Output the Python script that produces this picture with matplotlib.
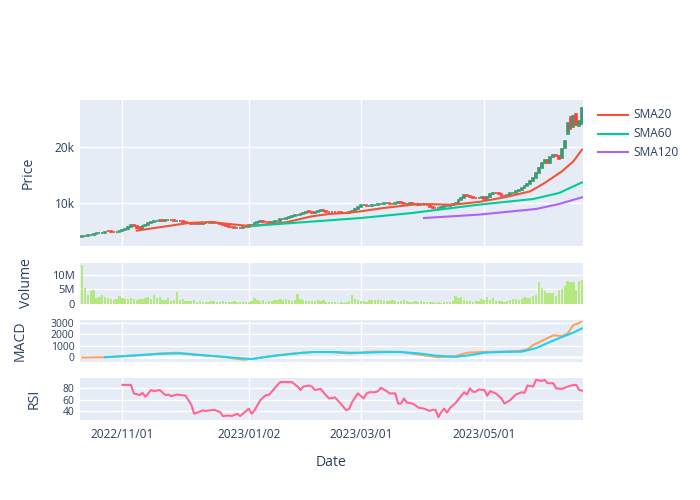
import matplotlib
matplotlib.use("Agg")
import matplotlib.pyplot as plt
from matplotlib.lines import Line2D
import numpy as np

plt.rcParams['font.family'] = ['Open Sans', 'DejaVu Sans']

# ---- data -----------------------------------------------------------------
tick_idx = [14, 58, 97, 140]
tick_labels = ['2022/11/01', '2023/01/02', '2023/03/01', '2023/05/01']

opens = [4050, 4150, 4250, 4400, 4450, 4600, 4700, 4800, 4850, 5150,
         5100, 5000, 4950, 5000, 5050, 5300, 5550, 5850, 6150, 6000,
         5750, 5550, 5950, 6250, 6500, 6650, 6800, 6900, 7050, 6950,
         7050, 7100, 7000, 6900, 6950, 6800, 6700, 6600, 6550, 6400,
         6350, 6450, 6400, 6500, 6550, 6600, 6650, 6550, 6450, 6300,
         6150, 6000, 5850, 5750, 5650, 5700, 5650, 5750, 5900, 6100,
         6250, 6500, 6700, 6850, 6700, 6650, 6600, 6650, 6800, 6950,
         7150, 7300, 7450, 7650, 7750, 7900, 7950, 8100, 8300, 8600,
         8450, 8300, 8450, 8650, 8750, 8600, 8550, 8500, 8550, 8450,
         8400, 8350, 8300, 8350, 8450, 8700, 8950, 9350, 9650, 9750,
         9600, 9600, 9650, 9700, 9850, 9950, 10050, 10100, 9900, 9800,
         10050, 10250, 10100, 9900, 9950, 10050, 9900, 9800, 9750, 9700,
         9750, 9700, 9350, 9200, 9150, 9250, 9300, 9450, 9550, 9650,
         9800, 10100, 10500, 10900, 11400, 11300, 11200, 11000, 10900, 11000,
         11150, 10700, 11200, 11650, 11900, 11800, 11600, 11350, 11300, 11500,
         11750, 11900, 12200, 12400, 12700, 13000, 13400, 13900, 14500, 15300,
         16300, 17200, 17700, 17200, 18100, 18600, 18300, 18000, 19700, 22200,
         25200, 23500, 25700, 23600, 24000]

closes = [4150, 4250, 4400, 4450, 4600, 4700, 4800, 4850, 5000, 5050,
          4950, 4950, 5000, 5050, 5300, 5550, 5850, 6100, 6000, 5700,
          5500, 5950, 6250, 6500, 6650, 6800, 6900, 7000, 6950, 7050,
          7100, 7000, 6900, 6950, 6800, 6700, 6600, 6550, 6400, 6350,
          6450, 6400, 6500, 6550, 6600, 6650, 6550, 6450, 6300, 6150,
          6000, 5850, 5750, 5650, 5700, 5650, 5750, 5900, 6100, 6250,
          6500, 6700, 6800, 6700, 6650, 6600, 6650, 6800, 6950, 7150,
          7300, 7450, 7650, 7750, 7900, 7950, 8100, 8300, 8550, 8450,
          8300, 8450, 8650, 8750, 8600, 8550, 8500, 8550, 8450, 8400,
          8350, 8300, 8350, 8450, 8700, 8950, 9350, 9650, 9700, 9600,
          9600, 9650, 9700, 9850, 9950, 10050, 10100, 9900, 9800, 10050,
          10250, 10100, 9900, 9950, 10050, 9900, 9800, 9750, 9700, 9750,
          9700, 9350, 9200, 9150, 9250, 9300, 9450, 9550, 9650, 9800,
          10100, 10500, 10900, 11400, 11300, 11200, 11000, 10900, 11000, 11150,
          10700, 11200, 11650, 11900, 11800, 11600, 11350, 11300, 11500, 11750,
          11900, 12200, 12400, 12700, 13000, 13400, 13900, 14500, 15300, 16200,
          17200, 17600, 17200, 18100, 18500, 18400, 17900, 19600, 21000, 24200,
          23100, 25400, 23800, 24500, 26900]

volume_m = [13.4, 5.3, 2.8, 4.3, 4.6, 1.9, 2.2, 2.9, 2.3, 1.9,
            1.5, 1.3, 1.4, 2.6, 2.0, 1.5, 1.7, 1.8, 1.7, 1.1,
            1.6, 1.4, 1.9, 2.2, 1.7, 3.1, 2.0, 2.2, 1.1, 1.2,
            1.8, 1.0, 1.2, 3.9, 1.3, 1.4, 0.8, 0.7, 0.8, 1.1,
            0.6, 0.7, 0.5, 0.4, 0.6, 0.8, 0.7, 0.6, 0.5, 0.7,
            0.6, 0.4, 0.5, 0.7, 0.4, 0.5, 0.6, 0.5, 0.6, 0.7,
            1.8, 1.2, 0.7, 1.1, 0.6, 0.9, 1.0, 1.3, 1.2, 1.4,
            1.2, 1.6, 1.3, 1.0, 1.2, 3.3, 1.4, 1.1, 0.9, 0.8,
            1.0, 0.7, 1.3, 1.0, 1.1, 0.5, 0.6, 0.5, 0.4, 0.3,
            0.4, 0.3, 0.6, 0.9, 3.1, 1.6, 1.3, 1.0, 0.8, 0.6,
            1.2, 1.3, 1.2, 1.1, 1.3, 0.9, 1.0, 0.7, 1.1, 0.8,
            0.6, 0.9, 1.1, 0.8, 0.5, 0.6, 0.7, 0.5, 1.0, 0.6,
            0.5, 0.4, 0.5, 0.3, 0.4, 0.3, 0.5, 0.4, 0.6, 1.0,
            2.7, 1.9, 2.1, 1.3, 1.0, 0.9, 0.6, 1.0, 0.7, 1.6,
            1.1, 2.1, 1.2, 1.9, 0.8, 0.7, 0.9, 0.6, 0.8, 1.2,
            1.6, 1.7, 1.1, 1.5, 2.3, 2.0, 1.8, 2.6, 3.1, 7.4,
            5.5, 4.4, 3.8, 3.7, 3.5, 2.7, 4.7, 5.0, 6.0, 7.8,
            7.6, 7.4, 4.8, 7.9, 8.0]

sma20_idx = [19, 37, 45, 51, 57, 61, 71, 80, 86, 92, 97, 105, 115, 119, 129, 138, 147, 156, 161, 167, 171, 174]
sma20_val = [5180, 6530, 6710, 6350, 6060, 6120, 6650, 7710, 8120, 8300, 8590, 9180, 9760, 9880, 9760, 10240,
             11060, 12120, 13590, 15640, 17410, 19470]
sma60_idx = [59, 97, 115, 138, 157, 166, 174]
sma60_val = [6000, 7410, 8300, 9760, 10760, 11820, 13700]
sma120_idx = [119, 138, 158, 166, 174]
sma120_val = [7410, 8000, 9000, 9880, 11060]

macd_idx = [0, 8, 14, 21, 27, 33, 37, 43, 50, 56, 60, 67, 73, 80, 86, 93, 97, 101, 106, 111, 117, 124,
            130, 134, 139, 145, 152, 155, 157, 161, 164, 167, 169, 171, 173, 174]
macd_val = [-30, 0, 90, 180, 330, 400, 310, 150, 0, -210, -120, 150, 310, 460, 460, 340, 400, 490, 490, 460,
            245, 0, 90, 400, 460, 490, 550, 700, 1070, 1560, 1930, 1870, 2080, 2840, 3000, 3200]
signal_idx = [8, 14, 21, 27, 34, 40, 47, 54, 59, 64, 71, 77, 81, 88, 93, 98, 106, 111, 117, 123, 130, 135,
              140, 145, 153, 158, 164, 171, 174]
signal_val = [0, 90, 210, 300, 340, 210, 90, -60, -150, 30, 240, 400, 460, 460, 400, 400, 460, 460, 340, 150,
              30, 180, 400, 460, 490, 800, 1470, 2170, 2540]

rsi_idx = [14, 17, 18, 20, 21, 22, 24, 25, 27, 29, 30, 31, 33, 36, 38, 39, 40, 42, 43, 46, 48, 49, 51, 52,
           54, 55, 58, 59, 60, 62, 63, 64, 65, 67, 68, 69, 73, 75, 76, 77, 79, 80, 81, 83, 85, 86, 88, 90,
           92, 93, 94, 96, 98, 99, 100, 102, 103, 104, 106, 107, 109, 110, 111, 112, 113, 115, 116, 117,
           119, 121, 122, 123, 124, 125, 126, 127, 128, 130, 132, 133, 134, 135, 136, 137, 138, 140, 141,
           142, 144, 146, 147, 149, 151, 153, 154, 155, 157, 158, 160, 161, 162, 164, 165, 167, 169, 171,
           172, 173, 174]
rsi_val = [86, 86, 71, 68, 72, 65, 77, 75, 77, 68, 69, 66, 69, 67, 51, 35, 37, 41, 40, 42, 38, 31, 32, 31,
           35, 31, 44, 35, 41, 59, 64, 68, 68, 80, 86, 91, 91, 83, 77, 83, 85, 83, 77, 79, 67, 62, 64, 53,
           41, 44, 56, 71, 62, 71, 73, 73, 75, 81, 75, 71, 71, 53, 53, 62, 55, 53, 50, 46,
           44, 40, 42, 42, 29, 38, 44, 37, 45, 54, 67, 73, 69, 80, 74, 74, 78, 77, 67,
           75, 71, 62, 53, 59, 69, 73, 72, 85, 83, 95, 93, 95, 89, 89, 80, 79, 83, 86,
           86, 77, 76]

# ---- styling ----------------------------------------------------------------
BG = '#E5ECF6'
TXT = '#2a3f5f'
INC, DEC = '#3D9970', '#FF4136'

W, H = 700, 500
fig = plt.figure(figsize=(7, 5), dpi=100)

X0, X1 = 80, 583


def panel(top, bottom, fs=8.3):
    ax = fig.add_axes([X0 / W, 1 - bottom / H, (X1 - X0) / W, (bottom - top) / H])
    ax.set_facecolor(BG)
    for s in ax.spines.values():
        s.set_visible(False)
    ax.tick_params(length=0, colors=TXT, labelsize=fs, pad=4)
    ax.set_axisbelow(True)
    ax.grid(True, color='white', linewidth=1)
    ax.set_xlim(-0.75, 174.35)
    ax.set_xticks(tick_idx)
    ax.set_xticklabels([])
    return ax


x = np.arange(len(closes))

# price -----------------------------------------------------------------------
ax1 = panel(100, 245.7, 8.6)
o = np.array(opens)
c = np.array(closes)
cols = [INC if cc >= oo else DEC for oo, cc in zip(o, c)]
ax1.bar(x, np.abs(c - o), bottom=np.minimum(o, c), width=0.65, color=cols, edgecolor=cols, linewidth=1.2)
ax1.plot(sma20_idx, sma20_val, color='#EF553B', lw=1.5)
ax1.plot(sma60_idx, sma60_val, color='#00CC96', lw=1.5)
ax1.plot(sma120_idx, sma120_val, color='#AB63FA', lw=1.5)
ax1.set_ylim(2520, 28240)
ax1.set_yticks([10000, 20000])
ax1.set_yticklabels(['10k', '20k'])

# volume ----------------------------------------------------------------------
ax2 = panel(262.5, 303.5, 8.0)
ax2.bar(x, np.array(volume_m) * 1e6, width=0.8, color='#B6E880')
ax2.set_ylim(0, 14.2e6)
ax2.set_yticks([0, 5e6, 10e6])
ax2.set_yticklabels(['0', '5M', '10M'])

# macd ------------------------------------------------------------------------
ax3 = panel(320.5, 361.7, 7.5)
ax3.axhline(0, color='white', lw=2, zorder=0.5)
ax3.plot(macd_idx, macd_val, color='#FFA15A', lw=1.5)
ax3.plot(signal_idx, signal_val, color='#19D3F3', lw=1.5)
ax3.set_ylim(-390, 3230)
ax3.set_yticks([0, 1000, 2000, 3000])

# rsi -------------------------------------------------------------------------
ax4 = panel(378.3, 420, 7.5)
ax4.plot(rsi_idx, rsi_val, color='#FF6692', lw=1.5)
ax4.set_ylim(24, 97.7)
ax4.set_yticks([40, 60, 80])
ax4.set_xticklabels(tick_labels)
ax4.tick_params(axis='x', pad=6, labelsize=8.6)

# titles ----------------------------------------------------------------------
fig.text(331.5 / W, 1 - 462 / H, 'Date', ha='center', va='center', fontsize=10.1, color=TXT)
for label, xp, yp in [('Price', 28, 173), ('Volume', 26, 283), ('MACD', 20, 341), ('RSI', 34, 399)]:
    fig.text(xp / W, 1 - yp / H, label, rotation=90, ha='center', va='center', fontsize=10.1, color=TXT)

# legend ----------------------------------------------------------------------
for name, col, yp in [('SMA20', '#EF553B', 114.5), ('SMA60', '#00CC96', 133.5), ('SMA120', '#AB63FA', 152.5)]:
    fig.add_artist(Line2D([598 / W, 628 / W], [1 - yp / H, 1 - yp / H], color=col, lw=1.5,
                          transform=fig.transFigure))
    fig.text(633 / W, 1 - yp / H, name, ha='left', va='center', fontsize=8.6, color=TXT)

fig.savefig('out.png', dpi=100)
